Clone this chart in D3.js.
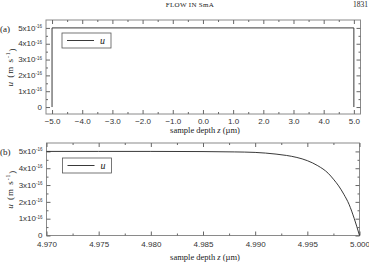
<!DOCTYPE html>
<html>
<head>
<meta charset="utf-8">
<script src="https://cdn.jsdelivr.net/npm/d3@7"></script>
<style>
  body { margin: 0; background: #fff; }
  svg { display: block; }
  .tick text { font-family: "Liberation Sans", Arial, sans-serif; font-size: 8px; fill: #333; }
  .serif { font-family: "Liberation Serif", "Times New Roman", serif; fill: #222; }
</style>
</head>
<body>
<svg id="chart" width="369" height="265"></svg>
<script>
// panel (a): full sample
const zA = [-5.0, -5.0, 5.0, 5.0];
const uA = [0, 5.0, 5.0, 0];
const xTicksA = [-5, -4, -3, -2, -1, 0, 1, 2, 3, 4, 5];

// panel (b): near the boundary (u in units of 1e-16 m/s)
const zB = [4.970, 4.975, 4.980, 4.985, 4.988, 4.990, 4.992, 4.993, 4.994, 4.995,
            4.996, 4.997, 4.9975, 4.998, 4.9985, 4.999, 4.9995, 5.000];
const uB = [5.00, 5.00, 5.00, 4.99, 4.97, 4.94, 4.84, 4.76, 4.64, 4.45,
            4.15, 3.70, 3.35, 2.95, 2.45, 1.85, 1.00, 0.00];
const xTicksB = [4.970, 4.975, 4.980, 4.985, 4.990, 4.995, 5.000];

const yTicks = [0, 1, 2, 3, 4, 5];
const yMinor = [0.5, 1.5, 2.5, 3.5, 4.5];

const svg = d3.select('#chart');
const frameColor = '#8a8a8a';

// header
svg.append('text').attr('class', 'serif')
    .attr('x', 190).attr('y', 7).attr('text-anchor', 'middle')
    .style('font-size', '7px').style('letter-spacing', '0.3px')
    .text('FLOW IN SmA');
svg.append('text').attr('class', 'serif')
    .attr('x', 368).attr('y', 7).attr('text-anchor', 'end')
    .style('font-size', '7.5px')
    .text('1831');

function drawPanel(opt) {
    const x = d3.scaleLinear().domain(opt.xDomain).range([opt.left, opt.right]);
    const y = d3.scaleLinear().domain(opt.yDomain).range([opt.bottom, opt.top]);
    const g = svg.append('g');

    // frame
    g.append('rect')
        .attr('x', opt.left).attr('y', opt.top)
        .attr('width', opt.right - opt.left).attr('height', opt.bottom - opt.top)
        .attr('fill', 'none').attr('stroke', frameColor).attr('stroke-width', 1);

    // ticks, pointing inward
    const tickG = (axis, tr) => {
        const a = g.append('g').attr('transform', tr).call(axis);
        a.select('.domain').remove();
        a.selectAll('line').attr('stroke', '#666');
        return a;
    };
    tickG(d3.axisBottom(x).tickValues(opt.xTicks).tickSize(-4).tickPadding(opt.xLabelPad).tickFormat(opt.xFormat),
        `translate(0,${opt.bottom})`);
    tickG(d3.axisBottom(x).tickValues(opt.xMinor).tickSize(-2).tickFormat(''),
        `translate(0,${opt.bottom})`);
    tickG(d3.axisTop(x).tickValues(opt.xTicks).tickSize(-4).tickFormat(''),
        `translate(0,${opt.top})`);
    tickG(d3.axisTop(x).tickValues(opt.xMinor).tickSize(-2).tickFormat(''),
        `translate(0,${opt.top})`);
    tickG(d3.axisLeft(y).tickValues(yTicks).tickSize(-4).tickFormat(''),
        `translate(${opt.left},0)`);
    tickG(d3.axisLeft(y).tickValues(yMinor).tickSize(-2).tickFormat(''),
        `translate(${opt.left},0)`);
    tickG(d3.axisRight(y).tickValues(yTicks).tickSize(-4).tickFormat(''),
        `translate(${opt.right},0)`);
    tickG(d3.axisRight(y).tickValues(yMinor).tickSize(-2).tickFormat(''),
        `translate(${opt.right},0)`);

    // y tick labels  (n x 10^-16)
    const yl = g.append('g').attr('class', 'tick');
    yTicks.forEach(v => {
        const t = yl.append('text')
            .attr('x', opt.left - 4).attr('y', y(v)).attr('dy', '0.33em')
            .attr('text-anchor', 'end');
        if (v === 0) {
            t.text('0');
        } else {
            t.append('tspan').text(v + 'x10');
            t.append('tspan').attr('dy', '-0.6em').style('font-size', '4.5px').text('-16');
        }
    });

    // data line
    const line = d3.line().x((d, i) => x(opt.zs[i])).y(d => y(d));
    if (opt.curve) line.curve(d3.curveMonotoneX);
    g.append('path').datum(opt.us)
        .attr('d', line)
        .attr('fill', 'none').attr('stroke', '#222').attr('stroke-width', 0.9);

    // legend
    const lg = g.append('g').attr('transform', `translate(${opt.left + 16},${opt.top + opt.legendDy})`);
    lg.append('rect').attr('x', 0).attr('y', 0).attr('width', 49).attr('height', 15)
        .attr('fill', '#fff').attr('stroke', '#555').attr('stroke-width', 0.8);
    lg.append('line').attr('x1', 5).attr('x2', 32).attr('y1', 7.5).attr('y2', 7.5)
        .attr('stroke', '#222').attr('stroke-width', 0.9);
    lg.append('text').attr('class', 'serif').attr('x', 38).attr('y', 11)
        .style('font-size', '10px').style('font-style', 'italic').text('u');

    // x title
    const xt = g.append('text').attr('class', 'serif')
        .attr('x', 205).attr('y', opt.bottom + opt.titleDy).attr('text-anchor', 'middle')
        .style('font-size', '8.5px');
    xt.append('tspan').text('sample depth ');
    xt.append('tspan').style('font-style', 'italic').text('z');
    xt.append('tspan').text(' (\u00b5m)');

    // y title
    const cy = (opt.top + opt.bottom) / 2;
    const yt = g.append('text').attr('class', 'serif')
        .attr('transform', `translate(13,${cy}) rotate(-90)`).attr('text-anchor', 'middle')
        .style('font-size', '9px').style('letter-spacing', '1px');
    yt.append('tspan').style('font-style', 'italic').text('u');
    yt.append('tspan').text(' (m s');
    yt.append('tspan').attr('dy', '-0.5em').style('font-size', '5.5px').text('-1');
    yt.append('tspan').attr('dy', '0.5em').text(')');

    // panel label
    svg.append('text').attr('class', 'serif')
        .attr('x', 0).attr('y', opt.labelY)
        .style('font-size', '9px').text(opt.label);
}

drawPanel({
    xDomain: [-5.2, 5.22], yDomain: [-0.44, 5.5],
    left: 46, right: 360.5, top: 20, bottom: 114,
    xTicks: xTicksA, xMinor: [-4.5, -3.5, -2.5, -1.5, -0.5, 0.5, 1.5, 2.5, 3.5, 4.5],
    xFormat: d3.format('.1f'), xLabelPad: 4, titleDy: 18.5,
    zs: zA, us: uA, curve: false,
    legendDy: 13, label: '(a)', labelY: 32
});

drawPanel({
    xDomain: [4.970, 5.000], yDomain: [0, 5.5],
    left: 46.5, right: 359.5, top: 143, bottom: 235.5,
    xTicks: xTicksB, xMinor: [4.9725, 4.9775, 4.9825, 4.9875, 4.9925, 4.9975],
    xFormat: d3.format('.3f'), xLabelPad: 6, titleDy: 24.5,
    zs: zB, us: uB, curve: true,
    legendDy: 15, label: '(b)', labelY: 155
});
</script>
</body>
</html>
